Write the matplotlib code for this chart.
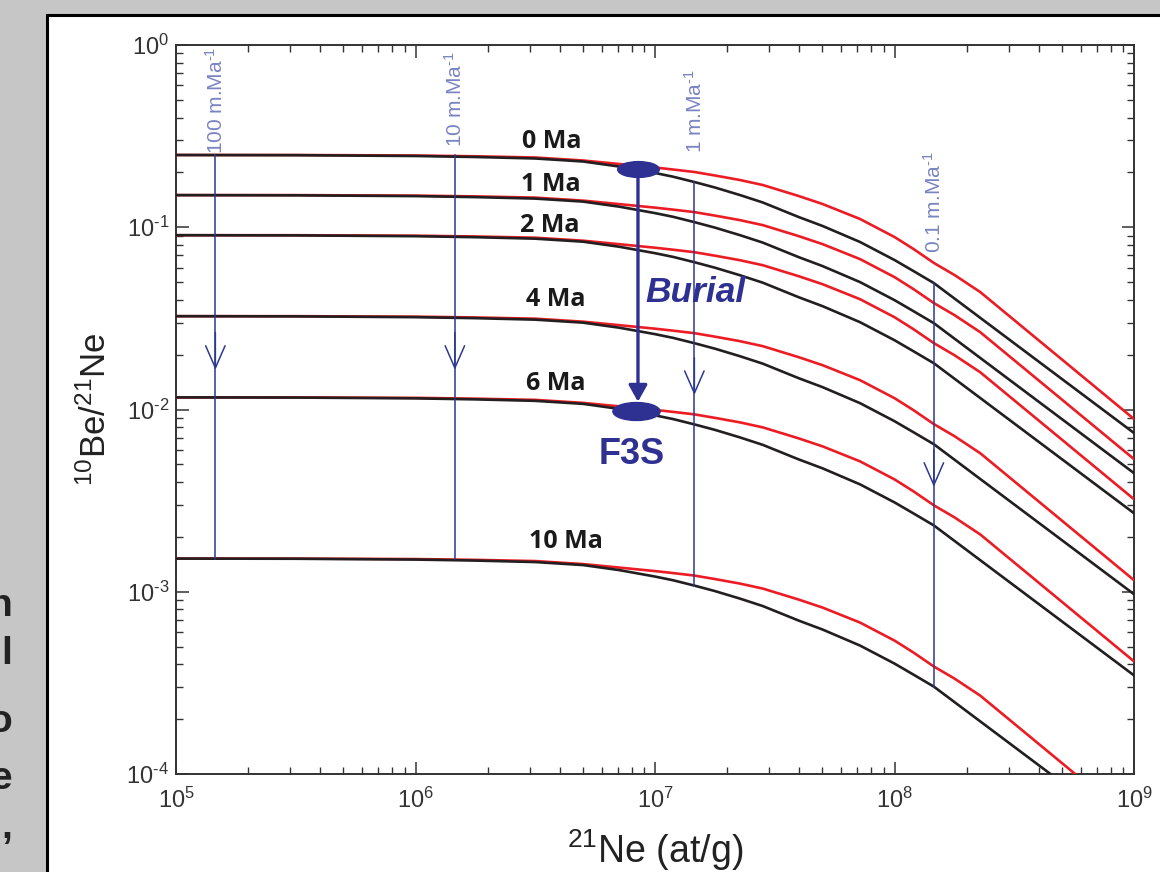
import math
import matplotlib
matplotlib.use('Agg')
import matplotlib.pyplot as plt
from matplotlib.patches import Rectangle
from matplotlib.path import Path
from matplotlib.transforms import Affine2D
from matplotlib.ticker import FuncFormatter, LogLocator

plt.rcParams['font.family'] = ['Liberation Sans', 'DejaVu Sans']
plt.rcParams['mathtext.fontset'] = 'custom'
plt.rcParams['mathtext.rm'] = 'Liberation Sans'
plt.rcParams['mathtext.it'] = 'Liberation Sans:italic'
plt.rcParams['mathtext.bf'] = 'Liberation Sans:bold'

# 0 Ma curves: 21Ne (at/g) and 10Be/21Ne
ne_black = [1e5, 3.16e5, 1e6, 1.78e6, 3.16e6, 5.01e6, 7.08e6, 1e7, 1.19e7, 1.46e7,
            1.78e7, 2.26e7, 2.82e7, 3.98e7, 5.01e7, 7.18e7, 1e8, 1.2e8, 1.46e8, 1e9]
ratio_black = [0.2491, 0.2485, 0.2460, 0.2429, 0.2384, 0.2295, 0.2154, 0.1985, 0.1894,
               0.1771, 0.1652, 0.1503, 0.1367, 0.1138, 0.1016, 0.0830, 0.0661, 0.0575,
               0.0494, 0.00743]
ne_red = [1e5, 3.16e5, 1e6, 1.78e6, 3.16e6, 5.01e6, 7.08e6, 1e7, 1.19e7, 1.46e7, 1.78e7,
          2.26e7, 2.82e7, 3.98e7, 5.01e7, 7.18e7, 1e8, 1.2e8, 1.46e8, 1.78e8, 2.28e8, 1e9]
ratio_red = [0.2491, 0.2491, 0.2476, 0.2451, 0.2414, 0.2324, 0.2224, 0.2127, 0.2074,
             0.2010, 0.1923, 0.1817, 0.1705, 0.1484, 0.1341, 0.1110, 0.0884, 0.0760,
             0.0637, 0.0547, 0.0441, 0.00887]

# burial ages and the plateau ratio of each pair of curves
ages = ['0 Ma', '1 Ma', '2 Ma', '4 Ma', '6 Ma', '10 Ma']
plateau = [0.249, 0.150, 0.0904, 0.0325, 0.01165, 0.00152]
age_label_x = [3.72e6, 3.68e6, 3.65e6, 3.86e6, 3.86e6, 4.25e6]
age_label_y = [0.297, 0.1727, 0.1016, 0.0399, 0.01397, 0.001875]

# steady erosion isolines
erosion_labels = [r'100 m.Ma$^{\text{-1}}$', r'10 m.Ma$^{\text{-1}}$',
                  r'1 m.Ma$^{\text{-1}}$', r'0.1 m.Ma$^{\text{-1}}$']
erosion_ne = [1.46e5, 1.46e6, 1.46e7, 1.46e8]
erosion_top = [0.249, 0.2485, 0.1771, 0.0494]
erosion_bottom = [0.00152, 0.001517, 0.001081, 0.0003015]
erosion_tip = [0.0165, 0.0165, 0.0120, 0.00376]
erosion_label_y = [0.2536, 0.2756, 0.2555, 0.0722]

# sample F3S: surface and buried position
f3s_ne = [8.49e6, 8.34e6]
f3s_ratio = [0.2096, 0.00981]
burial_tip = 0.01103

RED = '#ec1c24'
BLACK = '#231f20'
BLUE = '#2b3990'
LABEL_BLUE = '#7a84c2'
DARK = '#2e3192'

fig = plt.figure(figsize=(11.6, 8.72), dpi=100)
fig.patch.set_facecolor('#c6c6c6')
fig.add_artist(Rectangle((47 / 1160, -0.02), 1.1, 1.0028, transform=fig.transFigure,
                         facecolor='white', edgecolor='black', lw=2.2, zorder=0))
# ends of slide text lines peeking out behind the figure
for ch, yy in zip(['n', 'l', 'o', 'e', ','], [0.305, 0.25, 0.172, 0.107, 0.05]):
    fig.text(12 / 1160, yy, ch, ha='right', va='center', fontsize=28,
             color='#222222', fontweight='bold')

ax = fig.add_axes([176 / 1160, 1 - 774 / 872, (1134 - 176) / 1160, (774 - 45) / 872])
ax.set_xscale('log')
ax.set_yscale('log')
ax.set_xlim(1e5, 1e9)
ax.set_ylim(1e-4, 1e0)

for p in plateau:
    f = p / plateau[0]
    ax.plot(ne_red, [r * f for r in ratio_red], color=RED, lw=1.9, zorder=3)
    ax.plot(ne_black, [r * f for r in ratio_black], color=BLACK, lw=1.9, zorder=4)

for lab, x, y in zip(ages, age_label_x, age_label_y):
    ax.text(x, y, lab, ha='center', va='center', fontsize=18, fontweight='bold',
            family=['Open Sans', 'DejaVu Sans'], color='#1a1a1a', zorder=6)

for lab, x, top, bot, tip, ly in zip(erosion_labels, erosion_ne, erosion_top,
                                     erosion_bottom, erosion_tip, erosion_label_y):
    ax.plot([x, x], [top, bot], color=BLUE, lw=1.1, zorder=5)
    ax.annotate('', xy=(x, tip), xytext=(x, tip * 1.6),
                arrowprops=dict(arrowstyle='->,head_length=0.8,head_width=0.35',
                                mutation_scale=20, lw=1.1, color=BLUE,
                                shrinkA=0, shrinkB=0), zorder=5)
    ax.text(x, ly, lab, rotation=90, ha='center', va='bottom', fontsize=15,
            color=LABEL_BLUE, zorder=6)

# burial arrow and sample ellipses
ellipse = Path.unit_circle().transformed(Affine2D().scale(1.0, 0.38))
ax.annotate('', xy=(f3s_ne[0], burial_tip), xytext=(f3s_ne[0], f3s_ratio[0]),
            arrowprops=dict(arrowstyle='-|>,head_length=0.5,head_width=0.28',
                            mutation_scale=20, lw=2.4, color=DARK,
                            shrinkA=0, shrinkB=0), zorder=7)
ax.plot(f3s_ne[0], f3s_ratio[0], marker=ellipse, markersize=30, color=DARK,
        ls='none', zorder=8)
ax.plot(f3s_ne[1], f3s_ratio[1], marker=ellipse, markersize=34, color=DARK,
        ls='none', zorder=8)
ax.text(1.47e7, 0.0436, 'Burial', ha='center', va='center', fontsize=25.5,
        fontweight='bold', style='italic', color=DARK, zorder=8)
ax.text(8.02e6, 0.00563, 'F3S', ha='center', va='center', fontsize=26,
        fontweight='bold', color=DARK, zorder=8)

ax.xaxis.set_major_locator(LogLocator(base=10, numticks=10))
ax.yaxis.set_major_locator(LogLocator(base=10, numticks=10))
fmt = FuncFormatter(lambda v, pos: r'$10^{\text{%d}}$' % round(math.log10(v)))
ax.xaxis.set_major_formatter(fmt)
ax.yaxis.set_major_formatter(fmt)

for s in ax.spines.values():
    s.set_color('#333333')
    s.set_linewidth(1.4)
ax.tick_params(which='both', direction='in', top=True, right=True, color='#333333')
ax.tick_params(which='major', length=9, width=1.1, labelsize=17, colors='#333333')
ax.tick_params(which='minor', length=5, width=1.0)
ax.tick_params(axis='y', which='major', pad=5)
ax.tick_params(axis='x', which='major', pad=10)

ax.set_xlabel(r'$^{\text{21}}$Ne (at/g)', fontsize=27, color='#222222', labelpad=10)
ax.set_ylabel(r'$^{\text{10}}$Be/$^{\text{21}}$Ne', fontsize=25, color='#222222', labelpad=10)

fig.savefig('out.png', dpi=100)
